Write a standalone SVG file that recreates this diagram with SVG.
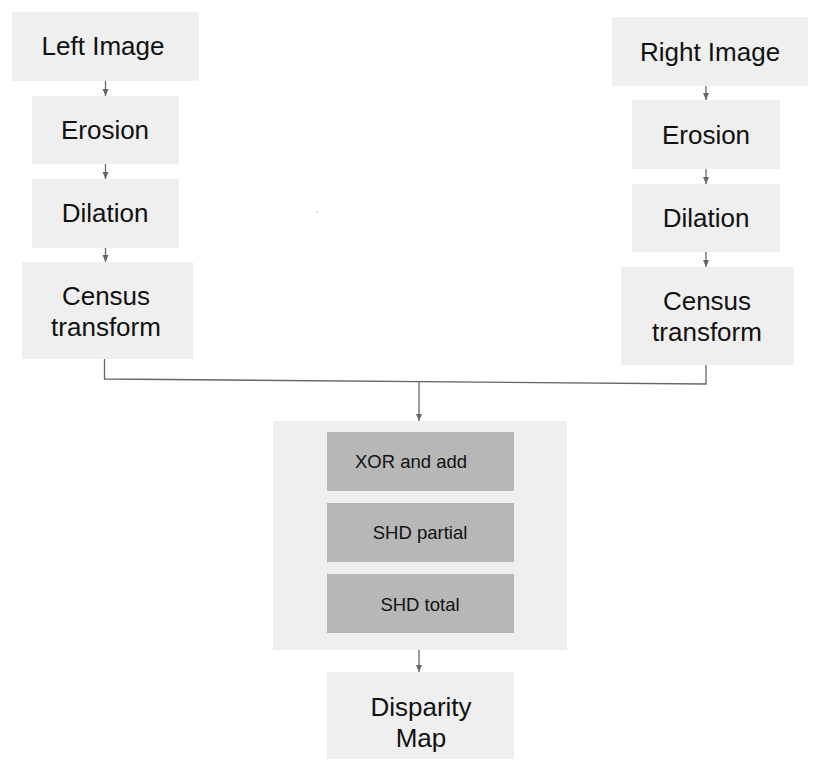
<svg xmlns="http://www.w3.org/2000/svg" width="820" height="768" viewBox="0 0 820 768">
<defs>
<marker id="arr" markerUnits="userSpaceOnUse" markerWidth="8" markerHeight="8" refX="7" refY="4" orient="auto">
<path d="M0,1 L7,4 L0,7 z" fill="#666"/>
</marker>
<style>
.box{fill:#efefef}
.inner{fill:#b7b7b7}
.t{font-family:"Liberation Sans",Arial,sans-serif;font-size:26px;fill:#111;text-anchor:middle}
.s{font-family:"Liberation Sans",Arial,sans-serif;font-size:18.5px;fill:#111;text-anchor:middle}
.c{fill:none;stroke:#666;stroke-width:1.3}
</style>
</defs>
<rect width="820" height="768" fill="#fff"/>
<rect x="316.5" y="211.5" width="1" height="1" fill="#999"/>
<g id="left-image"><rect class="box" x="12" y="12" width="187" height="69"/><text class="t" x="103" y="55">Left Image</text></g>
<g id="left-erosion"><rect class="box" x="32" y="96" width="147" height="68"/><text class="t" x="105" y="139">Erosion</text></g>
<g id="left-dilation"><rect class="box" x="32" y="179" width="147" height="69"/><text class="t" x="105" y="222">Dilation</text></g>
<g id="left-census"><rect class="box" x="22" y="262" width="171" height="97"/><text class="t" x="106" y="305">Census</text><text class="t" x="106" y="336">transform</text></g>
<g id="right-image"><rect class="box" x="612" y="17" width="196" height="69"/><text class="t" x="710" y="61">Right Image</text></g>
<g id="right-erosion"><rect class="box" x="632" y="100" width="148" height="69"/><text class="t" x="706" y="144">Erosion</text></g>
<g id="right-dilation"><rect class="box" x="632" y="184" width="148" height="68"/><text class="t" x="706" y="227">Dilation</text></g>
<g id="right-census"><rect class="box" x="621" y="267" width="173" height="98"/><text class="t" x="707" y="310">Census</text><text class="t" x="707" y="341">transform</text></g>
<g id="shd-block"><rect class="box" x="273" y="421" width="294" height="229"/>
<g id="xor"><rect class="inner" x="327" y="432" width="187" height="59"/><text class="s" x="411" y="468">XOR and add</text></g>
<g id="shd-partial"><rect class="inner" x="327" y="503" width="187" height="59"/><text class="s" x="420" y="539">SHD partial</text></g>
<g id="shd-total"><rect class="inner" x="327" y="574" width="187" height="59"/><text class="s" x="420" y="611">SHD total</text></g>
</g>
<g id="disparity"><rect class="box" x="327" y="672" width="187" height="87"/><text class="t" x="421" y="716">Disparity</text><text class="t" x="421" y="747">Map</text></g>
<g id="connectors">
<path class="c" d="M105.5,81 V96" marker-end="url(#arr)"/>
<path class="c" d="M105.5,164 V179" marker-end="url(#arr)"/>
<path class="c" d="M105.5,248 V262" marker-end="url(#arr)"/>
<path class="c" d="M706,86 V100" marker-end="url(#arr)"/>
<path class="c" d="M706,169 V184" marker-end="url(#arr)"/>
<path class="c" d="M706,252 V267" marker-end="url(#arr)"/>
<path class="c" d="M104.5,359 V379 L706,384 V365"/>
<path class="c" d="M419,381.5 V421" marker-end="url(#arr)"/>
<path class="c" d="M419,650 V672" marker-end="url(#arr)"/>
</g>
</svg>
